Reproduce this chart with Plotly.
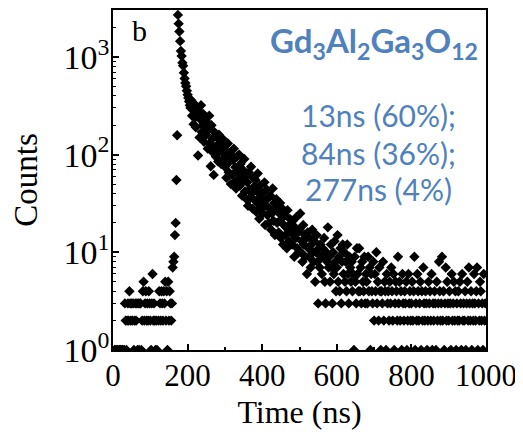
import plotly.graph_objects as go

# ---------------- data (counts per 2-ns channel) ----------------
BIN_NS = 2

pre_gate_start = 0          # t = 0 .. 30 ns
pre_gate_counts = [0, 0, 1, 1, 0, 1, 1, 0, 1, 1, 1, 0, 1, 1, 0, 1]

baseline_start = 32         # t = 32 .. 158 ns
baseline_counts = [
    3, 2, 1, 2, 3, 2, 4, 3, 2, 3,
    2, 3, 1, 2, 3, 2, 3, 1, 3, 1,
    3, 3, 1, 2, 4, 5, 2, 3, 4, 2,
    3, 2, 4, 3, 2, 1, 3, 6, 2, 3,
    2, 1, 2, 1, 0, 2, 4, 3, 2, 4,
    3, 2, 4, 3, 5, 2, 4, 1, 5, 2,
    4, 3, 2, 3,
]

rise_start = 160            # t = 160 .. 172 ns
rise_counts = [7, 8, 9, 15, 20, 55, 158]

decay_start = 174           # t = 174 .. 298 ns
decay_counts = [
    2690, 2190, 1820, 1450, 1150, 1020, 870, 810, 690, 600,
    540, 500, 450, 410, 380, 350, 320, 300, 360, 250,
    300, 205, 330, 240, 190, 310, 260, 98, 280, 150,
    230, 320, 170, 200, 260, 135, 190, 240, 160, 215,
    115, 180, 250, 130, 76, 200, 145, 105, 62, 170,
    120, 95, 150, 125, 85, 160, 108, 130, 80, 118,
    145, 90, 102,
]

tail_start = 300            # t = 300 .. 998 ns
tail_counts = [
    75, 110, 58, 92, 130, 66, 84, 104, 50, 96,
    62, 88, 115, 52, 74, 45, 95, 68, 56, 100,
    48, 80, 62, 38, 70, 54, 90, 42, 60, 35,
    52, 30, 66, 44, 36, 75, 40, 28, 58, 47,
    34, 55, 26, 42, 64, 31, 22, 48, 37, 28,
    40, 25, 33, 52, 19, 30, 44, 24, 36, 20,
    28, 38, 17, 25, 45, 21, 32, 15, 27, 35,
    20, 30, 16, 25, 32, 14, 22, 28, 12, 19,
    24, 15, 18, 11, 27, 17, 13, 22, 16, 20,
    12, 21, 15, 9, 18, 14, 23, 11, 16, 10,
    17, 25, 10, 13, 8, 19, 12, 15, 9, 14,
    6, 16, 11, 9, 14, 7, 12, 17, 10, 8,
    13, 5, 10, 15, 8, 3, 11, 7, 12, 9,
    6, 11, 9, 14, 5, 3, 10, 8, 18, 7,
    9, 5, 12, 7, 3, 10, 6, 13, 8, 4,
    7, 15, 5, 9, 4, 11, 3, 8, 12, 6,
    10, 5, 8, 4, 12, 6, 3, 9, 7, 5,
    8, 4, 6, 1, 9, 5, 3, 11, 6, 4,
    11, 4, 7, 3, 8, 5, 4, 9, 3, 6,
    5, 3, 9, 4, 7, 1, 6, 4, 3, 8,
    2, 6, 4, 10, 3, 5, 2, 7, 4, 1,
    4, 3, 8, 2, 5, 4, 1, 6, 3, 4,
    2, 5, 3, 7, 4, 2, 6, 1, 3, 5,
    4, 2, 9, 3, 5, 2, 4, 1, 6, 3,
    2, 4, 3, 5, 1, 2, 6, 3, 4, 2,
    3, 5, 2, 4, 9, 1, 3, 2, 6, 4,
    2, 3, 5, 1, 4, 2, 7, 3, 2, 4,
    3, 1, 2, 5, 3, 4, 2, 6, 1, 3,
    2, 4, 3, 1, 5, 2, 3, 8, 4, 2,
    3, 9, 2, 4, 1, 3, 7, 2, 5, 3,
    2, 4, 3, 1, 6, 2, 3, 5, 2, 4,
    1, 3, 2, 4, 2, 5, 3, 1, 6, 2,
    3, 2, 4, 1, 3, 5, 2, 7, 3, 2,
    4, 1, 3, 2, 6, 3, 2, 4, 7, 1,
    3, 2, 5, 4, 2, 3, 1, 6, 2, 3,
]

x_ticks = [0, 200, 400, 600, 800, 1000]
x_minor = [100, 300, 500, 700, 900]
y_ticks = [1, 10, 100, 1000]
y_ticktext = ["10<sup>0</sup>", "10<sup>1</sup>", "10<sup>2</sup>", "10<sup>3</sup>"]
y_minor = [m * d for d in (1, 10, 100, 1000) for m in range(2, 10) if m * d < 3100]

panel_label = "b"
compound = "Gd<sub>3</sub>Al<sub>2</sub>Ga<sub>3</sub>O<sub>12</sub>"
lifetimes = ["13ns (60%);", "84ns (36%);", "277ns (4%)"]

# ---------------- assemble ----------------
segments = [
    (pre_gate_start, pre_gate_counts),
    (baseline_start, baseline_counts),
    (rise_start, rise_counts),
    (decay_start, decay_counts),
    (tail_start, tail_counts),
]
time_ns, counts = [], []
for start, vals in segments:
    for i, v in enumerate(vals):
        if v > 0:
            time_ns.append(start + BIN_NS * i)
            counts.append(v)

SERIF = "Liberation Serif, Times New Roman, serif"
BLUE = "#4F81BD"

fig = go.Figure(
    go.Scatter(
        x=time_ns, y=counts, mode="markers",
        marker=dict(symbol="diamond", size=8, color="black", line=dict(width=0)),
        showlegend=False,
    )
)

# the page body keeps its default 8px margin, so the figure is sized to sit inside the window
fig.update_layout(
    width=515, height=422,
    margin=dict(l=105, r=37, t=0, b=74),
    paper_bgcolor="white", plot_bgcolor="white",
    font=dict(family=SERIF, color="black"),
)

fig.update_xaxes(
    range=[0, 1000], tickvals=x_ticks, ticks="inside", ticklen=6, tickwidth=1.5,
    tickcolor="black", showline=True, linewidth=1.5, linecolor="black", mirror=True,
    showgrid=False, zeroline=False, ticklabeloverflow="allow", ticklabelstandoff=-3,
    tickfont=dict(family=SERIF, size=31),
    minor=dict(tickvals=x_minor, ticks="inside", ticklen=3, tickwidth=1.5, tickcolor="black", showgrid=False),
    title=dict(text="Time (ns)", font=dict(family=SERIF, size=32), standoff=15),
)
fig.update_yaxes(
    type="log", range=[0, 3.48], tickvals=y_ticks, ticktext=y_ticktext,
    ticks="inside", ticklen=6, tickwidth=1.5, tickcolor="black",
    showline=True, linewidth=1.5, linecolor="black", mirror=True,
    showgrid=False, zeroline=False, ticklabeloverflow="allow", ticklabelstandoff=-5,
    tickfont=dict(family=SERIF, size=34),
    minor=dict(tickvals=y_minor, ticks="inside", ticklen=3.5, tickwidth=1.2, tickcolor="black", showgrid=False),
    title=dict(text="Counts", font=dict(family=SERIF, size=33), standoff=22),
)

fig.add_annotation(x=0.07, y=0.94, xref="paper", yref="paper", text=panel_label,
                   showarrow=False, xanchor="center", yanchor="middle",
                   font=dict(family=SERIF, size=30, color="black"))
fig.add_annotation(x=0.70, y=0.903, xref="paper", yref="paper", text="<b>" + compound + "</b>",
                   showarrow=False, xanchor="center", yanchor="middle",
                   font=dict(family="Lato", size=33, color=BLUE))
for line, yp in zip(lifetimes, [0.69, 0.58, 0.474]):
    fig.add_annotation(x=0.713, y=yp, xref="paper", yref="paper", text=line,
                       showarrow=False, xanchor="center", yanchor="middle",
                       font=dict(family="Lato", size=30, color=BLUE))

fig.write_html("out.html", config={"displayModeBar": False})
